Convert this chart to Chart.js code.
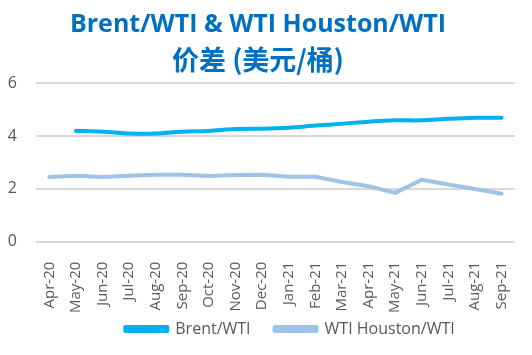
<!DOCTYPE html>
<html>
<head>
<meta charset="utf-8">
<script src="https://cdn.jsdelivr.net/npm/chart.js@4/dist/chart.umd.min.js"></script>
<style>
html,body{margin:0;padding:0;background:#fff;}
#wrap{width:532px;height:355px;position:relative;}
</style>
</head>
<body>
<div id="wrap"><canvas id="c" width="532" height="355"></canvas></div>
<script>
const categories = ["Apr-20","May-20","Jun-20","Jul-20","Aug-20","Sep-20","Oct-20","Nov-20","Dec-20","Jan-21","Feb-21","Mar-21","Apr-21","May-21","Jun-21","Jul-21","Aug-21","Sep-21"];
const brentWti = [null,4.2,4.17,4.1,4.1,4.17,4.2,4.27,4.28,4.32,4.4,4.47,4.55,4.6,4.6,4.66,4.7,4.7];
const houstonWti = [2.45,2.5,2.45,2.5,2.54,2.54,2.49,2.53,2.54,2.46,2.46,2.26,2.1,1.85,2.35,2.17,2.0,1.82];
const titleText = "Brent/WTI & WTI Houston/WTI";
const subtitleText = "价差 (美元/桶)";
const yTicks = [0,2,4,6];

const FONT = "'Open Sans','Noto Sans CJK SC',sans-serif";
const CJK = "'Noto Sans CJK SC','Open Sans',sans-serif";

const legendShift = {
  id:'legendShift',
  afterLayout(chart){
    const l = chart.legend;
    if(l){ l.left += 32; l.right += 32; l.top = 297; l.bottom = 355; l.height = 58; }
  }
};

new Chart(document.getElementById('c'), {
  type: 'line',
  data: {
    labels: categories,
    datasets: [
      {label:'Brent/WTI', data: brentWti, borderColor:'#00B0F0', backgroundColor:'#00B0F0', borderWidth:4, pointRadius:0, tension:0.3, borderCapStyle:'round', borderJoinStyle:'round'},
      {label:'WTI Houston/WTI', data: houstonWti, borderColor:'#9DC3E6', backgroundColor:'#9DC3E6', borderWidth:4, pointRadius:0, tension:0, borderCapStyle:'round', borderJoinStyle:'round'}
    ]
  },
  plugins:[legendShift],
  options: {
    responsive:false, animation:false, devicePixelRatio:1,
    layout:{padding:{left:0,right:16,top:0,bottom:0}},
    plugins:{
      title:{display:true, text:titleText, color:'#0070C0', font:{family:FONT, size:25, weight:'bold', lineHeight:1.2}, padding:{top:10,bottom:0}},
      subtitle:{display:true, text:subtitleText, color:'#0070C0', font:{family:CJK, size:27, weight:'bold', lineHeight:1.2}, padding:{top:4,bottom:7}},
      legend:{position:'bottom', maxHeight:30, labels:{boxWidth:42, boxHeight:4, color:'#595959', font:{family:FONT, size:16}, padding:24}},
      tooltip:{enabled:false}
    },
    scales:{
      x:{offset:true, grid:{display:false}, border:{display:false},
         ticks:{color:'#595959', font:{family:FONT,size:15}, maxRotation:90, minRotation:90, autoSkip:false, padding:12}},
      y:{min:0, max:6, afterBuildTicks: s => { s.ticks = yTicks.map(v=>({value:v})); },
         afterFit: s => { s.width = 36; },
         grid:{color:'#D9D9D9', lineWidth:2, drawTicks:false}, border:{display:false},
         ticks:{color:'#595959', font:{family:FONT,size:16}, padding:19}}
    }
  }
});
</script>
</body>
</html>
